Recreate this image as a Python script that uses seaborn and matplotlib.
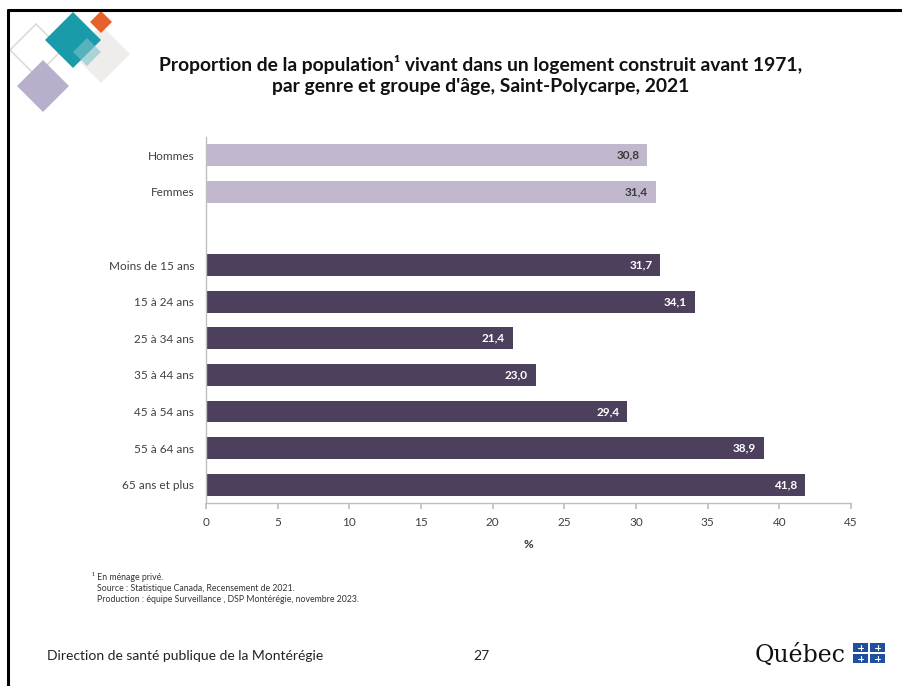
import numpy as np
import pandas as pd
import matplotlib
matplotlib.use('Agg')
import matplotlib.pyplot as plt
from matplotlib.patches import Polygon, Rectangle
import seaborn as sns

# ─── Data ────────────────────────────────────────────────────
genres   = ['Hommes', 'Femmes']
val_gen  = [30.8, 31.4]
ages     = ['Moins de 15 ans', '15 à 24 ans', '25 à 34 ans', '35 à 44 ans',
            '45 à 54 ans', '55 à 64 ans', '65 ans et plus']
val_age  = [31.7, 34.1, 21.4, 23.0, 29.4, 38.9, 41.8]
x_ticks  = [0, 5, 10, 15, 20, 25, 30, 35, 40, 45]

titre = ("Proportion de la population¹ vivant dans un logement construit avant 1971,\n"
         "par genre et groupe d'âge, Saint-Polycarpe, 2021")
notes = ["¹ En ménage privé.",
         "Source : Statistique Canada, Recensement de 2021.",
         "Production : équipe Surveillance , DSP Montérégie, novembre 2023."]

LIGHT = '#C2B4D2'
DARK  = '#4B3B62'

df = pd.DataFrame({
    'cat':    genres + ages,
    'val':    val_gen + val_age,
    'groupe': ['genre'] * len(genres) + ['age'] * len(ages),
})
order = genres + [' '] + ages

sns.set_theme(style='white')
plt.rcParams['font.family'] = ['Lato', 'DejaVu Sans']

W, H = 902, 686
fig = plt.figure(figsize=(W / 100, H / 100), dpi=100)

# ── Slide background layer (pixel coords) ─────────────────────
bg = fig.add_axes([0, 0, 1, 1], zorder=0)
bg.set_xlim(0, W); bg.set_ylim(H, 0); bg.axis('off')

bg.plot([8, 8], [10, H], color='black', lw=2.2)
bg.plot([8, W], [10, 10], color='black', lw=2.2)


def diamond(cx, cy, r, **kw):
    pts = [(cx - r, cy), (cx, cy - r), (cx + r, cy), (cx, cy + r)]
    bg.add_patch(Polygon(pts, closed=True, **kw))


diamond(36, 50, 26, facecolor='none', edgecolor='#D9DDD6', lw=1.2)
diamond(101, 54, 29, facecolor='#EEEBEA', edgecolor='none', alpha=0.9)
diamond(73, 40, 28, facecolor='#1A9BAA', edgecolor='none')
diamond(101, 22, 11, facecolor='#E8602A', edgecolor='none')
diamond(87, 52, 14, facecolor='#7FC3CB', edgecolor='none', alpha=0.6)
diamond(43, 86, 26, facecolor='#B7AFCB', edgecolor='none')

fig.text(481 / W, 1 - 75 / H, titre, ha='center', va='center', fontsize=13.9,
         fontweight='bold', color='#111111', linespacing=1.3)

for i, n in enumerate(notes):
    fig.text((92 if i == 0 else 97) / W, 1 - (577 + i * 11.5) / H, n, ha='left',
             va='center', fontsize=6.3, color='#333333')

fig.text(47 / W, 1 - 656 / H, 'Direction de santé publique de la Montérégie',
         ha='left', va='center', fontsize=10, color='#222222')
fig.text(481 / W, 1 - 656 / H, '27', ha='center', va='center', fontsize=10,
         color='#222222')

# Québec signature
fig.text(755 / W, 1 - 655 / H, 'Québec', ha='left', va='center', fontsize=17,
         family='DejaVu Serif', color='#111111')
for fx in (853, 870):
    for fy in (643, 654):
        bg.add_patch(Rectangle((fx, fy), 15, 9, facecolor='#1F4F9E', edgecolor='none'))
        bg.plot([fx + 7.5, fx + 7.5], [fy + 2, fy + 7], color='white', lw=0.8)
        bg.plot([fx + 5, fx + 10], [fy + 4.5, fy + 4.5], color='white', lw=0.8)

# ── Chart ─────────────────────────────────────────────────────
ax = fig.add_axes([206 / W, 1 - 503 / H, 645 / W, 366 / H], zorder=1)
ax.patch.set_alpha(0)
sns.barplot(data=df, x='val', y='cat', hue='groupe', order=order, dodge=False,
            palette={'genre': LIGHT, 'age': DARK}, width=0.6, linewidth=0,
            legend=False, ax=ax)

ax.set_xlim(0, 45)
ax.set_ylim(len(order) - 0.5, -0.5)
ax.set_xticks(x_ticks)
ax.set_xticklabels([str(t) for t in x_ticks])
ax.set_ylabel('')
ax.set_xlabel('%', fontsize=8.5, fontweight='bold', color='#333333', labelpad=8)

for s in ['top', 'right']:
    ax.spines[s].set_visible(False)
for s in ['left', 'bottom']:
    ax.spines[s].set_color('#BFBFBF')
    ax.spines[s].set_linewidth(1.0)
ax.tick_params(axis='x', bottom=True, length=4, color='#BFBFBF', labelsize=8.5,
               labelcolor='#404040', pad=6)
ax.tick_params(axis='y', left=False, labelsize=8.5, labelcolor='#404040', pad=2.5)

pos = {c: i for i, c in enumerate(order)}
for c, v, g in zip(df['cat'], df['val'], df['groupe']):
    lab = f"{v:.1f}".replace('.', ',')
    ax.text(v - 0.55, pos[c], lab, ha='right', va='center', fontsize=8.5,
            fontweight='bold', color='#3A3A3A' if g == 'genre' else 'white')

fig.savefig('out.png', dpi=100)
